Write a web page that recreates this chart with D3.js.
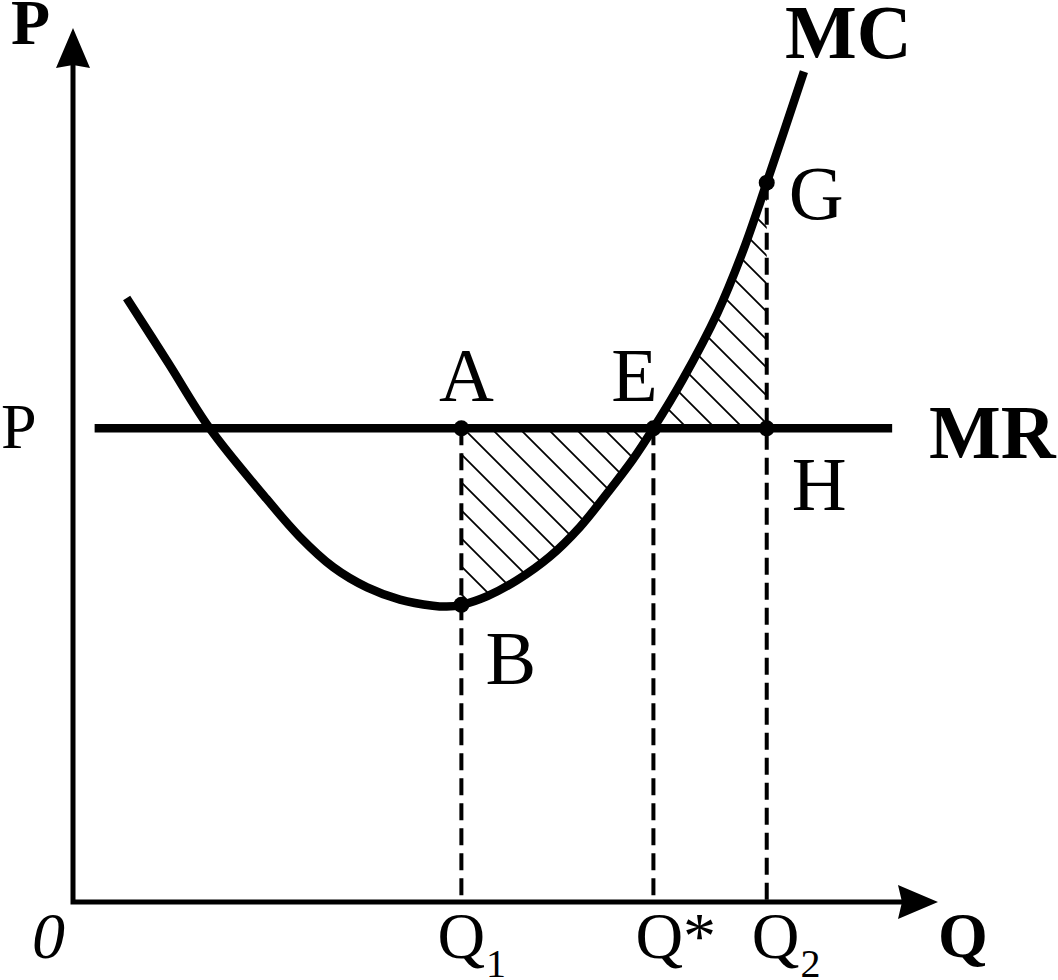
<!DOCTYPE html>
<html>
<head>
<meta charset="utf-8">
<script src="https://cdn.jsdelivr.net/npm/d3@7"></script>
<style>
  html, body { margin: 0; padding: 0; background: #fff; }
  svg { display: block; }
  text { font-family: "Liberation Serif", "Times New Roman", serif; fill: #000; }
</style>
</head>
<body>
<svg id="chart" width="1058" height="980"></svg>
<script>
// ---- data (in chart units) ----
const mcQ = [0.62, 1.10, 1.58, 2.24, 2.62, 3.01, 3.40, 3.78, 4.16, 4.32, 4.49, 4.79, 5.13, 5.51, 5.86, 6.17, 6.47, 6.71, 7.05, 7.45, 7.75, 8.02, 8.45];
const mcP = [6.91, 6.17, 5.42, 4.61, 4.18, 3.83, 3.60, 3.46, 3.39, 3.38, 3.40, 3.50, 3.68, 3.95, 4.29, 4.67, 5.06, 5.42, 5.98, 6.74, 7.46, 8.23, 9.50];
const mrPrice = 5.42;
const mrRange = [0.25, 9.47];
const qValues = [4.49, 6.71, 8.02];           // Q1, Q*, Q2
const qLabels = ["Q1", "Q*", "Q2"];
const pointNames = ["A", "B", "E", "G", "H"];
const pointQ = [4.49, 4.49, 6.71, 8.02, 8.02];
const pointP = [5.42, 3.40, 5.42, 8.23, 5.42];

// ---- scales ----
const x = d3.scaleLinear().domain([0, 10]).range([73, 938]);
const y = d3.scaleLinear().domain([0, 10]).range([902, 28]);

const svg = d3.select("#chart");
const mc = mcQ.map((q, i) => [q, mcP[i]]);
const curve = d3.curveCatmullRom.alpha(0.5);

// clip: area between MC and MR, limited to Q1..Q2
const defs = svg.append("defs");
const area = d3.area()
  .x(d => x(d[0]))
  .y0(y(mrPrice))
  .y1(d => y(d[1]))
  .curve(curve);
defs.append("clipPath").attr("id", "qclip")
  .append("rect")
  .attr("x", x(qValues[0]))
  .attr("y", 0)
  .attr("width", x(qValues[2]) - x(qValues[0]))
  .attr("height", 980);
defs.append("clipPath").attr("id", "aclip")
  .append("path")
  .attr("d", area(mc));

// hatch lines at 45°, 28px horizontal spacing
const yTop = y(9), yBot = y(3);
const x0 = x(qValues[0]), x1 = x(qValues[2]);
const offsets = d3.range(Math.floor((x0 - yBot) / 28) * 28 + 7, x1 - yTop + 28, 28);
svg.append("g").attr("clip-path", "url(#qclip)")
  .append("g").attr("clip-path", "url(#aclip)")
  .selectAll("line").data(offsets).join("line")
  .attr("x1", c => yTop + c).attr("y1", yTop)
  .attr("x2", c => yBot + c).attr("y2", yBot)
  .attr("stroke", "#000").attr("stroke-width", 1.8);

// dashed guide lines
const guideTop = [mrPrice, mrPrice, pointP[3]];
svg.append("g").selectAll("line").data(qValues).join("line")
  .attr("x1", d => x(d)).attr("x2", d => x(d))
  .attr("y1", (d, i) => y(guideTop[i]))
  .attr("y2", y(0))
  .attr("stroke", "#000")
  .attr("stroke-width", 4)
  .attr("stroke-dasharray", "17,8");

// axes
svg.append("path")
  .attr("d", `M${x(0)},${y(10) + 35} L${x(0)},${y(0)} L${x(10) - 35},${y(0)}`)
  .attr("fill", "none").attr("stroke", "#000")
  .attr("stroke-width", 5).attr("stroke-linejoin", "miter");
const ty = [x(0), y(10)];
svg.append("path")
  .attr("d", `M${ty[0]},${ty[1]} L${ty[0] + 17},${ty[1] + 40} L${ty[0]},${ty[1] + 37} L${ty[0] - 17},${ty[1] + 40} Z`)
  .attr("fill", "#000");
const tx = [x(10), y(0)];
svg.append("path")
  .attr("d", `M${tx[0]},${tx[1]} L${tx[0] - 40},${tx[1] - 17} L${tx[0] - 36},${tx[1]} L${tx[0] - 40},${tx[1] + 17} Z`)
  .attr("fill", "#000");

// MR line
svg.append("line")
  .attr("x1", x(mrRange[0])).attr("x2", x(mrRange[1]))
  .attr("y1", y(mrPrice)).attr("y2", y(mrPrice))
  .attr("stroke", "#000").attr("stroke-width", 8.5);

// MC curve
svg.append("path")
  .attr("d", d3.line().x(d => x(d[0])).y(d => y(d[1])).curve(curve)(mc))
  .attr("fill", "none").attr("stroke", "#000").attr("stroke-width", 8.5);

// points
svg.append("g").selectAll("circle").data(pointNames).join("circle")
  .attr("cx", (d, i) => x(pointQ[i]))
  .attr("cy", (d, i) => y(pointP[i]))
  .attr("r", 8)
  .attr("fill", "#000");

// point labels
const labelOff = { A: [5, -27], B: [24, 79], E: [-19, -27], G: [22, 36], H: [25, 82] };
svg.append("g").selectAll("text").data(pointNames).join("text")
  .attr("x", (d, i) => x(pointQ[i]) + labelOff[d][0])
  .attr("y", (d, i) => y(pointP[i]) + labelOff[d][1])
  .attr("text-anchor", d => (d === "A" || d === "E") ? "middle" : "start")
  .attr("font-size", 76)
  .text(d => d);

// curve labels
svg.append("text").attr("x", 785).attr("y", 58)
  .attr("font-size", 76).attr("font-weight", "bold").text("MC");
svg.append("text").attr("x", 929).attr("y", 458)
  .attr("font-size", 76).attr("font-weight", "bold").text("MR");

// axis titles
svg.append("text").attr("x", 11).attr("y", 44)
  .attr("font-size", 64).attr("font-weight", "bold").text("P");
svg.append("text").attr("x", 938).attr("y", 957)
  .attr("font-size", 64).attr("font-weight", "bold").text("Q");
svg.append("text").attr("x", 1).attr("y", y(mrPrice) + 20)
  .attr("font-size", 64).text("P");
svg.append("text").attr("x", 32).attr("y", 958)
  .attr("font-size", 66).attr("font-style", "italic").text("0");

// Q labels
const qShift = [-24, -18, -15];
const qg = svg.append("g").selectAll("text").data(qLabels).join("text")
  .attr("x", (d, i) => x(qValues[i]) + qShift[i])
  .attr("y", 958)
  .attr("font-size", 66);
qg.each(function(d) {
  const t = d3.select(this);
  if (d === "Q*") {
    t.text("Q*");
  } else {
    t.append("tspan").text("Q");
    t.append("tspan").attr("font-size", 40).attr("dy", 19).attr("dx", 1).text(d.slice(1));
  }
});
</script>
</body>
</html>
